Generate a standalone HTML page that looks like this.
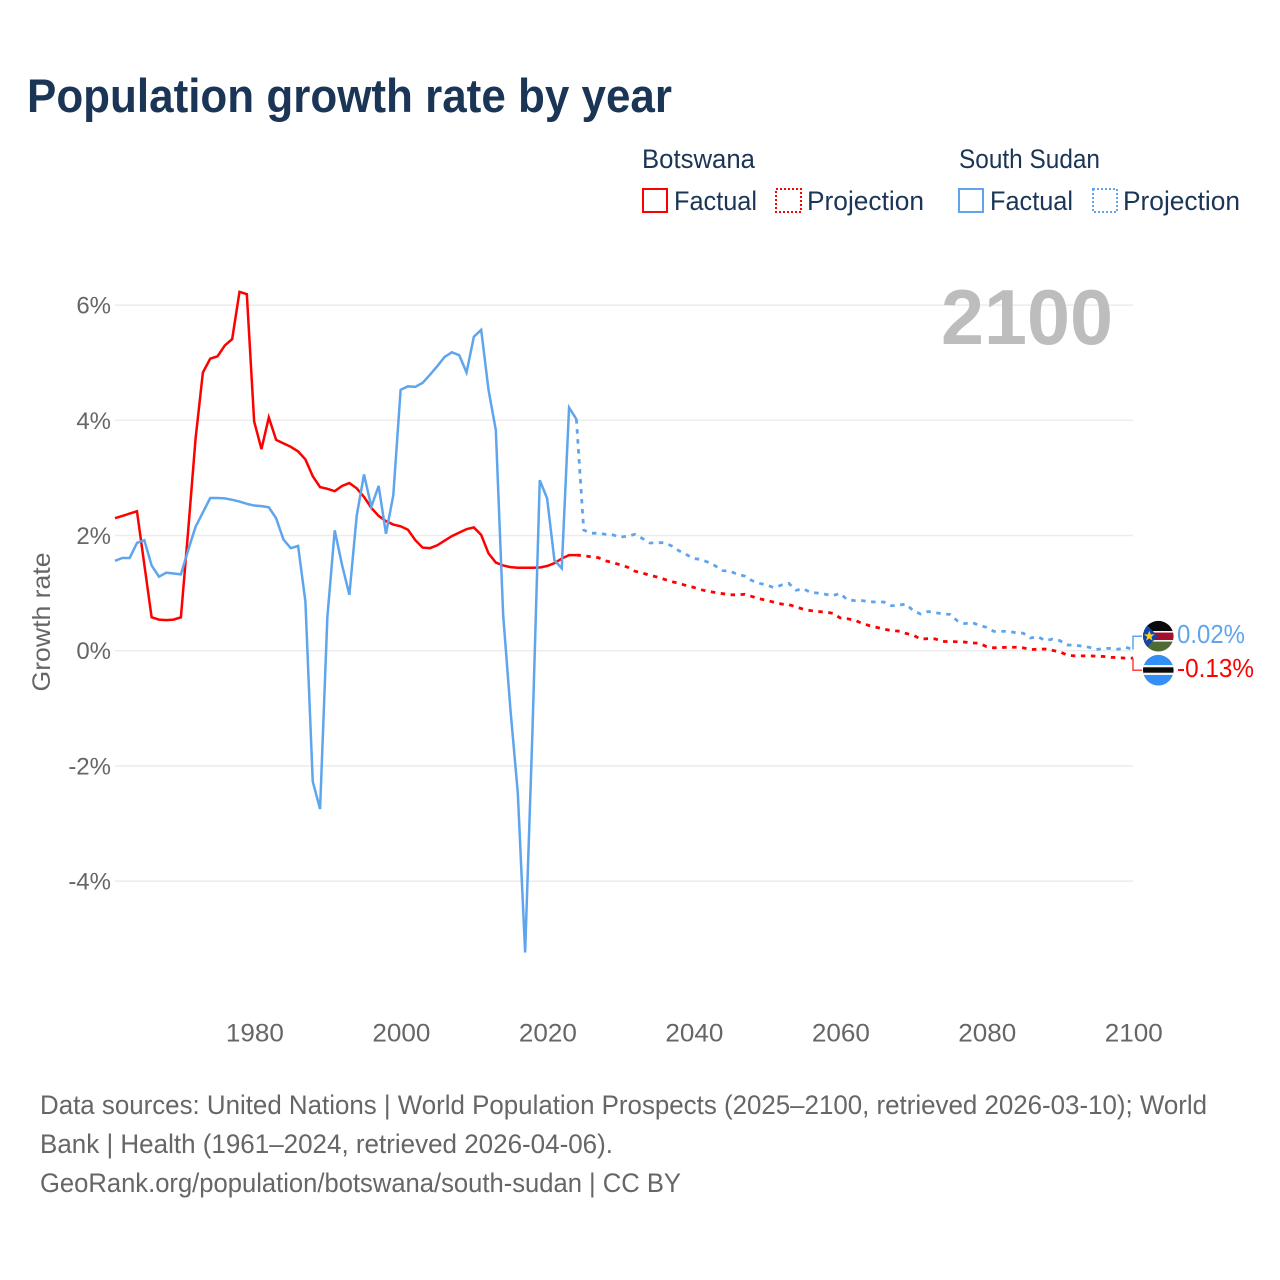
<!DOCTYPE html>
<html lang="en">
<head>
<meta charset="utf-8">
<title>Population growth rate by year</title>
<style>
html,body{margin:0;padding:0;background:#fff;width:1280px;height:1280px;overflow:hidden}
svg{display:block;font-family:"Liberation Sans",sans-serif}
</style>
</head>
<body>
<svg id="chart" xmlns="http://www.w3.org/2000/svg" width="1280" height="1280" viewBox="0 0 1280 1280">
  <rect x="0" y="0" width="1280" height="1280" fill="#fff"/>
  <text x="27" y="112" font-size="47" font-weight="700" fill="#1a3556" textLength="645" lengthAdjust="spacingAndGlyphs">Population growth rate by year</text>

  <g font-size="26.5" fill="#1a3556">
    <text x="642" y="168" textLength="113" lengthAdjust="spacingAndGlyphs">Botswana</text>
    <text x="959" y="168" textLength="141" lengthAdjust="spacingAndGlyphs">South Sudan</text>
    <rect x="643" y="189" width="24" height="23" fill="none" stroke="#ff0000" stroke-width="2"/>
    <text x="674" y="210" textLength="83" lengthAdjust="spacingAndGlyphs">Factual</text>
    <rect x="776" y="189" width="25" height="23" fill="none" stroke="#ff0000" stroke-width="2" stroke-dasharray="2 2"/>
    <text x="807" y="210" textLength="117" lengthAdjust="spacingAndGlyphs">Projection</text>
    <rect x="959" y="189" width="24" height="23" fill="none" stroke="#5fa5ee" stroke-width="2"/>
    <text x="990" y="210" textLength="83" lengthAdjust="spacingAndGlyphs">Factual</text>
    <rect x="1093" y="189" width="24" height="23" fill="none" stroke="#5fa5ee" stroke-width="2" stroke-dasharray="2 2"/>
    <text x="1123" y="210" textLength="117" lengthAdjust="spacingAndGlyphs">Projection</text>
  </g>

  <g id="grid"></g>
  <text x="941" y="344" font-size="78" font-weight="700" fill="#bdbdbd" textLength="172" lengthAdjust="spacingAndGlyphs">2100</text>
  <g id="yticks" font-size="24" fill="#666" text-anchor="end"></g>
  <g id="xticks" font-size="25" fill="#666" text-anchor="middle"></g>
  <text transform="translate(50 622) rotate(-90)" font-size="25" fill="#666" text-anchor="middle" textLength="139" lengthAdjust="spacingAndGlyphs">Growth rate</text>
  <g id="series"></g>

  <g>
    <polyline id="conn-ss" fill="none" stroke="#5fa5ee" stroke-width="1.5"/>
    <polyline id="conn-bw" fill="none" stroke="#ff4040" stroke-width="1.5"/>
    <defs>
      <clipPath id="clip-ss"><circle cx="1158.3" cy="636.2" r="15.3"/></clipPath>
      <clipPath id="clip-bw"><circle cx="1158.3" cy="670.2" r="15.3"/></clipPath>
    </defs>
    <g clip-path="url(#clip-ss)">
      <rect x="1142" y="620" width="33" height="11" fill="#0a0a0a"/>
      <rect x="1142" y="631" width="33" height="2" fill="#f4f4f4"/>
      <rect x="1142" y="632.6" width="33" height="7.4" fill="#a50f2d"/>
      <rect x="1142" y="640" width="33" height="2" fill="#f4f4f4"/>
      <rect x="1142" y="641.6" width="33" height="11" fill="#4c6b35"/>
      <polygon points="1142,620 1157.8,636.2 1142,652.5" fill="#0f47af"/>
      <polygon points="1149.3,630.6 1150.7,634.4 1154.6,634.4 1151.4,636.9 1152.6,640.8 1149.3,638.4 1146,640.8 1147.2,636.9 1144,634.4 1147.9,634.4" fill="#fcd116"/>
    </g>
    <g clip-path="url(#clip-bw)">
      <rect x="1142" y="654" width="33" height="33" fill="#338ff5"/>
      <rect x="1142" y="665" width="33" height="10" fill="#f4f4f4"/>
      <rect x="1142" y="667.3" width="33" height="5.4" fill="#0a0a0a"/>
    </g>
    <text id="label-ss" x="1177" y="643" font-size="25.5" fill="#5fa5ee" textLength="68" lengthAdjust="spacingAndGlyphs"></text>
    <text id="label-bw" x="1177" y="677" font-size="25.5" fill="#ff0000" textLength="77" lengthAdjust="spacingAndGlyphs"></text>
  </g>

  <g font-size="26.5" fill="#666">
    <text x="40" y="1114" textLength="1167" lengthAdjust="spacingAndGlyphs">Data sources: United Nations | World Population Prospects (2025–2100, retrieved 2026-03-10); World</text>
    <text x="40" y="1153" textLength="573" lengthAdjust="spacingAndGlyphs">Bank | Health (1961–2024, retrieved 2026-04-06).</text>
    <text x="40" y="1192" textLength="641" lengthAdjust="spacingAndGlyphs">GeoRank.org/population/botswana/south-sudan | CC BY</text>
  </g>
</svg>
<script>
var firstYear = 1961;
var lastFactualYear = 2024;
var lastYear = 2100;
var yTickValues = [6, 4, 2, 0, -2, -4];
var yTickLabels = ["6%", "4%", "2%", "0%", "-2%", "-4%"];
var xTickValues = [1980, 2000, 2020, 2040, 2060, 2080, 2100];
var xTickLabels = ["1980", "2000", "2020", "2040", "2060", "2080", "2100"];

var botswanaFactual = [2.30,2.34,2.38,2.42,1.50,0.58,0.54,0.53,0.54,0.58,2.10,3.68,4.83,5.07,5.11,5.30,5.41,6.23,6.19,3.98,3.50,4.05,3.66,3.60,3.54,3.46,3.32,3.03,2.84,2.81,2.77,2.86,2.91,2.82,2.67,2.48,2.34,2.25,2.19,2.16,2.10,1.92,1.79,1.78,1.83,1.91,1.99,2.05,2.11,2.14,2.01,1.69,1.53,1.48,1.45,1.44,1.44,1.44,1.445,1.47,1.52,1.60,1.66,1.66];
var botswanaProjection = [1.65,1.63,1.615,1.56,1.53,1.49,1.45,1.38,1.35,1.31,1.28,1.24,1.20,1.17,1.13,1.10,1.06,1.03,1.01,0.99,0.97,0.97,0.98,0.94,0.90,0.875,0.84,0.81,0.80,0.76,0.72,0.695,0.68,0.67,0.65,0.57,0.555,0.53,0.475,0.435,0.405,0.375,0.35,0.34,0.30,0.27,0.20,0.21,0.205,0.16,0.16,0.155,0.15,0.135,0.13,0.07,0.05,0.055,0.06,0.06,0.05,0.02,0.025,0.03,0.005,-0.02,-0.075,-0.09,-0.09,-0.09,-0.095,-0.10,-0.115,-0.12,-0.13,-0.13];

var southSudanFactual = [1.56,1.61,1.61,1.87,1.92,1.48,1.285,1.355,1.34,1.325,1.75,2.15,2.40,2.65,2.65,2.645,2.62,2.59,2.55,2.52,2.51,2.49,2.30,1.93,1.78,1.82,0.85,-2.27,-2.75,0.59,2.09,1.49,0.97,2.34,3.06,2.50,2.86,2.03,2.70,4.53,4.59,4.58,4.65,4.79,4.94,5.10,5.18,5.13,4.83,5.45,5.57,4.53,3.83,0.62,-1.03,-2.47,-5.24,-1.40,2.96,2.645,1.57,1.43,4.22,4.02];
var southSudanProjection = [2.095,2.04,2.04,2.02,2.01,1.97,1.99,2.02,1.95,1.87,1.875,1.875,1.82,1.735,1.67,1.60,1.585,1.535,1.47,1.39,1.38,1.325,1.295,1.215,1.17,1.14,1.095,1.14,1.17,1.05,1.075,1.01,1.00,0.98,0.955,0.995,0.885,0.87,0.87,0.85,0.845,0.845,0.78,0.79,0.81,0.695,0.637,0.68,0.66,0.64,0.63,0.52,0.47,0.49,0.44,0.405,0.335,0.335,0.34,0.31,0.305,0.22,0.245,0.175,0.20,0.175,0.10,0.095,0.08,0.06,0.02,0.04,0.04,0.025,0.06,0.02];

var RED = "#ff0000";
var BLUE = "#5fa5ee";
var SVGNS = "http://www.w3.org/2000/svg";

function xScale(year) {
  return 115 + (year - firstYear) * (1133 - 115) / (lastYear - firstYear);
}
function yScale(value) {
  return 650.7 - value * 57.6;
}
function pointsFrom(values, startYear, prefix) {
  var pts = prefix ? prefix.slice() : [];
  for (var i = 0; i < values.length; i++) {
    pts.push(xScale(startYear + i).toFixed(2) + "," + yScale(values[i]).toFixed(2));
  }
  return pts.join(" ");
}
function lastPoint(values, startYear) {
  var i = values.length - 1;
  return xScale(startYear + i).toFixed(2) + "," + yScale(values[i]).toFixed(2);
}

var gridGroup = document.getElementById("grid");
var yTickGroup = document.getElementById("yticks");
var xTickGroup = document.getElementById("xticks");
var seriesGroup = document.getElementById("series");

yTickValues.forEach(function (v, i) {
  var line = document.createElementNS(SVGNS, "line");
  
  
  line.setAttribute("x1", 115);
  line.setAttribute("x2", 1133);
  line.setAttribute("y1", yScale(v));
  line.setAttribute("y2", yScale(v));
  line.setAttribute("stroke", "#ececec");
  line.setAttribute("stroke-width", "1.5");
  gridGroup.appendChild(line);

  var label = document.createElementNS(SVGNS, "text");
  
  
  label.setAttribute("x", 111);
  label.setAttribute("y", yScale(v) + 8.5);
  label.textContent = yTickLabels[i];
  yTickGroup.appendChild(label);
});

xTickValues.forEach(function (v, i) {
  var label = document.createElementNS(SVGNS, "text");
  
  
  label.setAttribute("x", xScale(v) + 0.8);
  label.setAttribute("y", 1041.5);
  label.setAttribute("textLength", "58");
  label.setAttribute("lengthAdjust", "spacingAndGlyphs");
  label.textContent = xTickLabels[i];
  xTickGroup.appendChild(label);
});

function addProjection(values, anchor, color) {
  var line = document.createElementNS(SVGNS, "polyline");
  
  
  line.setAttribute("points", pointsFrom(values, lastFactualYear + 1, [anchor]));
  line.setAttribute("fill", "none");
  line.setAttribute("stroke", color);
  line.setAttribute("stroke-width", "2.8");
  line.setAttribute("stroke-dasharray", "4.5 5.5");
  line.setAttribute("stroke-linejoin", "round");
  seriesGroup.appendChild(line);
}
function addFactual(values, color) {
  var line = document.createElementNS(SVGNS, "polyline");
  
  
  line.setAttribute("points", pointsFrom(values, firstYear));
  line.setAttribute("fill", "none");
  line.setAttribute("stroke", color);
  line.setAttribute("stroke-width", "2.5");
  line.setAttribute("stroke-linejoin", "miter");
  seriesGroup.appendChild(line);
}

addProjection(southSudanProjection, lastPoint(southSudanFactual, firstYear), BLUE);
addProjection(botswanaProjection, lastPoint(botswanaFactual, firstYear), RED);
addFactual(botswanaFactual, RED);
addFactual(southSudanFactual, BLUE);

var ssEnd = southSudanProjection[southSudanProjection.length - 1];
var bwEnd = botswanaProjection[botswanaProjection.length - 1];
document.getElementById("conn-ss").setAttribute("points",
  xScale(lastYear) + "," + yScale(ssEnd) + " " + xScale(lastYear) + ",636.2 1142,636.2");
document.getElementById("conn-bw").setAttribute("points",
  xScale(lastYear) + "," + yScale(bwEnd) + " " + xScale(lastYear) + ",670.2 1142,670.2");
document.getElementById("label-ss").textContent = ssEnd.toFixed(2) + "%";
document.getElementById("label-bw").textContent = bwEnd.toFixed(2) + "%";
</script>
</body>
</html>
